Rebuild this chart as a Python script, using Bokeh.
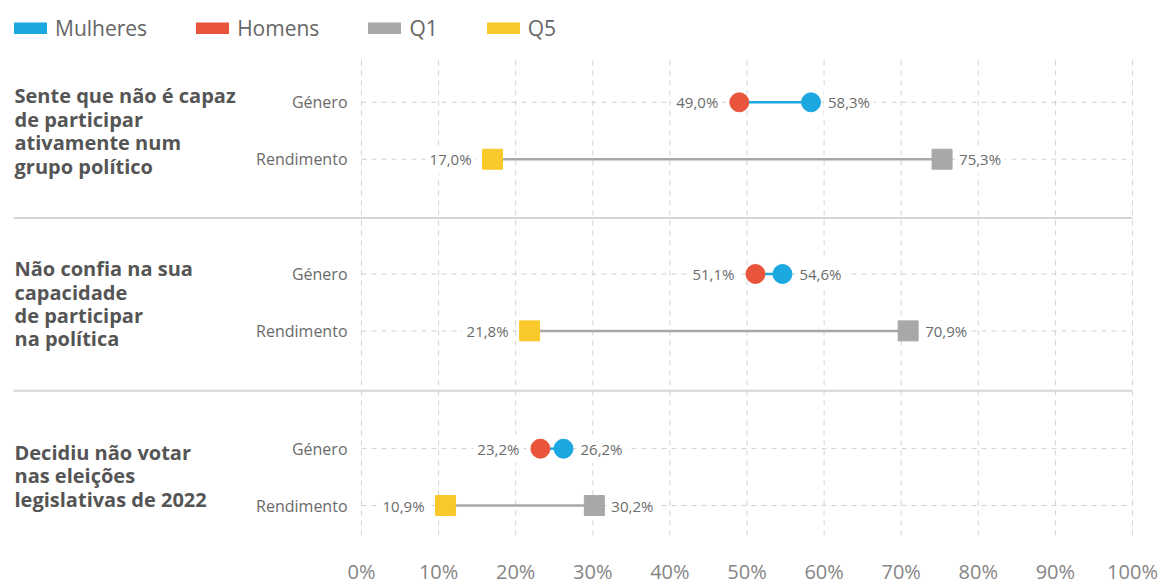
from bokeh.plotting import figure
from bokeh.models import Range1d, FixedTicker, Legend, LegendItem
from bokeh.core.properties import value
from bokeh.embed import file_html
from bokeh.resources import INLINE

# ---------------- data ----------------
groups = [
    "Sente que não é capaz\nde participar\nativamente num\ngrupo político",
    "Não confia na sua\ncapacidade\nde participar\nna política",
    "Decidiu não votar\nnas eleições\nlegislativas de 2022",
]
sub_labels = ["Género", "Rendimento"]
mulheres = [58.3, 54.6, 26.2]
homens = [49.0, 51.1, 23.2]
q1 = [75.3, 70.9, 30.2]
q5 = [17.0, 21.8, 10.9]
ticks = [0, 10, 20, 30, 40, 50, 60, 70, 80, 90, 100]
tick_labels = ["0%", "10%", "20%", "30%", "40%", "50%", "60%", "70%", "80%", "90%", "100%"]

# ---------------- layout ----------------
FONT = "Open Sans"
C_BLUE = "#1ba8e0"
C_RED = "#e9553a"
C_GRAY = "#a8a8a8"
C_YEL = "#f9c82a"
TXT = "#6b6b6b"

W, H = 1161, 587
ZERO_PX = 361          # frame px of 0%
SCALE = 7.71           # px per %
x0 = -ZERO_PX / SCALE
x1 = (W - ZERO_PX) / SCALE
FRAME_BOTTOM = 538

gen_y = [102, 274, 449]     # y of "Género" rows (screen-like units)
rend_off = 57
title_top = [82, 255, 439]
sep_y = [218, 391]
sep_left = (13 - ZERO_PX) / SCALE

p = figure(width=W, height=H, x_range=Range1d(x0, x1), y_range=Range1d(FRAME_BOTTOM, 0),
           min_border_left=0, min_border_right=0, min_border_top=0, min_border_bottom=0,
           outline_line_color=None, toolbar_location=None, output_backend="svg",
           y_axis_location=None, background_fill_color="white", border_fill_color="white")
p.xgrid.visible = False
p.ygrid.visible = False

rend_y = [g + rend_off for g in gen_y]

# vertical dashed grid
p.segment(x0=ticks, x1=ticks, y0=[60] * len(ticks), y1=[FRAME_BOTTOM + 20] * len(ticks),
          line_color="#d2d2d2", line_width=1, line_dash="5 5")
# horizontal dashed row lines
rows_y = gen_y + rend_y
p.segment(x0=[0] * len(rows_y), x1=[100] * len(rows_y), y0=rows_y, y1=rows_y,
          line_color="#cfcfcf", line_width=1, line_dash="5 5")
# separators
p.segment(x0=[sep_left] * len(sep_y), x1=[100] * len(sep_y), y0=sep_y, y1=sep_y,
          line_color="#d6d6d6", line_width=2)

# connecting lines
p.segment(x0=homens, x1=mulheres, y0=gen_y, y1=gen_y, line_color=C_BLUE, line_width=2.5)
p.segment(x0=q5, x1=q1, y0=rend_y, y1=rend_y, line_color=C_GRAY, line_width=2.5)

# markers
p.scatter(x=homens, y=gen_y, size=19, marker="circle", fill_color=C_RED, line_color=C_RED)
p.scatter(x=mulheres, y=gen_y, size=19, marker="circle", fill_color=C_BLUE, line_color=C_BLUE)
p.scatter(x=q1, y=rend_y, size=20, marker="square", fill_color=C_GRAY, line_color=C_GRAY)
p.scatter(x=q5, y=rend_y, size=20, marker="square", fill_color=C_YEL, line_color=C_YEL)

def fmt(v):
    return f"{v:.1f}%".replace(".", ",")

left_x = homens + q5
right_x = mulheres + q1
p.text(x=left_x, y=rows_y, text=[fmt(v) for v in left_x], x_offset=-17,
       text_align="right", text_baseline="middle", text_font=value(FONT),
       text_font_size="15px", text_color=TXT,
       background_fill_color="white", padding=4)
p.text(x=right_x, y=rows_y, text=[fmt(v) for v in right_x], x_offset=13,
       text_align="left", text_baseline="middle", text_font=value(FONT),
       text_font_size="15px", text_color=TXT,
       background_fill_color="white", padding=4)

# row sub-labels
p.text(x=[0] * len(rows_y), y=rows_y,
       text=[sub_labels[0]] * len(gen_y) + [sub_labels[1]] * len(rend_y),
       x_offset=-14, text_align="right", text_baseline="middle",
       text_font=value(FONT), text_font_size="16px", text_color=TXT)

# group titles
p.text(x=[0] * len(groups), y=title_top, text=groups, x_offset=-347,
       text_align="left", text_baseline="top", text_font=value(FONT),
       text_font_size="20px", text_font_style="bold", text_color="#555555",
       text_line_height=0.87)

# axis
ax = p.xaxis[0]
ax.ticker = FixedTicker(ticks=ticks)
ax.major_label_overrides = {t: l for t, l in zip(ticks, tick_labels)}
ax.axis_line_color = None
ax.major_tick_line_color = None
ax.minor_tick_line_color = None
ax.major_label_text_font = FONT
ax.major_label_text_font_size = "20px"
ax.major_label_text_color = "#858585"
ax.major_label_standoff = 14

# legend (renderers hold off-screen points so their swatches are drawn)
names = ["Mulheres", "Homens", "Q1", "Q5"]
cols = [C_BLUE, C_RED, C_GRAY, C_YEL]
items = []
for n, c in zip(names, cols):
    r = p.line(x=[-1000, -999], y=[-1000, -1000], line_color=c, line_width=12, line_cap="round")
    items.append(LegendItem(label=n, renderers=[r]))
leg = Legend(items=items, orientation="horizontal", location="top_left",
             border_line_color=None, background_fill_alpha=0, margin=14, padding=10,
             glyph_width=33, glyph_height=12, label_standoff=8, spacing=49,
             label_text_font=FONT, label_text_font_size="21px", label_text_color="#666666")
p.add_layout(leg)

open("out.html", "w").write(file_html(p, INLINE))
